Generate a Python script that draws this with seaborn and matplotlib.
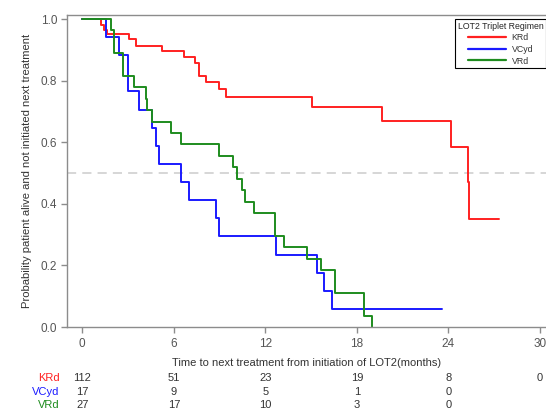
import seaborn as sns
import matplotlib.pyplot as plt
import matplotlib.transforms as mtransforms
from matplotlib.lines import Line2D
import pandas as pd

# Kaplan-Meier step points (time in months, survival)
krd_time = [0, 1.25, 1.4, 1.6, 3.05, 3.5, 5.25, 6.7, 7.42, 7.65, 8.12, 8.96, 9.42,
            15.05, 19.67, 24.15, 25.3, 25.35, 27.35]
krd_surv = [1.0, 0.98, 0.965, 0.952, 0.934, 0.912, 0.896, 0.878, 0.857, 0.816, 0.796,
            0.772, 0.748, 0.713, 0.670, 0.585, 0.47, 0.350, 0.350]

vcyd_time = [0, 1.55, 2.4, 3.02, 3.75, 4.55, 4.85, 5.05, 6.5, 7.0, 8.76, 8.98,
             12.73, 15.36, 15.86, 16.38, 23.57]
vcyd_surv = [1.0, 0.941, 0.882, 0.765, 0.706, 0.647, 0.588, 0.529, 0.471, 0.412,
             0.353, 0.294, 0.235, 0.176, 0.118, 0.059, 0.059]

vrd_time = [0, 1.86, 2.08, 2.7, 3.39, 4.15, 4.26, 4.54, 5.85, 6.46, 8.98, 9.9, 10.12,
            10.5, 10.7, 11.24, 12.66, 13.23, 14.7, 15.63, 16.6, 18.45, 18.97]
vrd_surv = [1.0, 0.963, 0.889, 0.815, 0.778, 0.741, 0.704, 0.667, 0.630, 0.593, 0.556,
            0.519, 0.481, 0.444, 0.407, 0.370, 0.296, 0.259, 0.222, 0.185, 0.111,
            0.037, 0.0]

groups = ["KRd", "VCyd", "VRd"]
colors = {"KRd": "#ff2020", "VCyd": "#1a1aff", "VRd": "#1e8c1e"}

# numbers at risk
risk_ticks = [0, 6, 12, 18, 24, 30]
krd_risk = [112, 51, 23, 19, 8, 0]
vcyd_risk = [17, 9, 5, 1, 0]
vrd_risk = [27, 17, 10, 3, 0]

df = pd.concat([
    pd.DataFrame({"time": krd_time, "surv": krd_surv, "group": "KRd"}),
    pd.DataFrame({"time": vcyd_time, "surv": vcyd_surv, "group": "VCyd"}),
    pd.DataFrame({"time": vrd_time, "surv": vrd_surv, "group": "VRd"}),
], ignore_index=True)

sns.set_theme(style="white")
plt.rcParams["font.family"] = ["Liberation Sans", "DejaVu Sans"]

fig = plt.figure(figsize=(5.46, 4.09), dpi=100)
ax = fig.add_axes([67 / 546, 82 / 409, 1 - 67 / 546, 312 / 409])

sns.lineplot(data=df, x="time", y="surv", hue="group", palette=colors,
             estimator=None, sort=False, drawstyle="steps-post",
             linewidth=1.4, legend=False, ax=ax)

ax.axhline(0.5, color="#cccccc", linestyle=(0, (6, 4)), linewidth=1.1, zorder=0)

ax.set_xlim(-1.0, 30.4)
ax.set_ylim(0, 1.013)
ax.set_xticks(risk_ticks)
ax.set_yticks([0.0, 0.2, 0.4, 0.6, 0.8, 1.0])
ax.set_yticklabels(["0.0", "0.2", "0.4", "0.6", "0.8", "1.0"])

for side in ["left", "bottom", "top"]:
    ax.spines[side].set_color("#8c8c8c")
    ax.spines[side].set_linewidth(1.0)
ax.spines["right"].set_visible(False)

ax.tick_params(axis="both", direction="out", length=4, width=1, color="#8c8c8c",
               labelsize=8.5, labelcolor="#555555", pad=3,
               bottom=True, left=True, top=False, right=False)
ax.tick_params(axis="x", pad=4)

ax.set_xlabel("Time to next treatment from initiation of LOT2(months)",
              fontsize=8, color="#333333", labelpad=6)
ax.set_ylabel("Probability patient alive and not initiated next treatment",
              fontsize=8.1, color="#333333", labelpad=6)

handles = [Line2D([0], [0], color=colors[g], linewidth=1.6) for g in groups]
leg = ax.legend(handles, groups, title="LOT2 Triplet Regimen",
                loc="upper left", bbox_to_anchor=(455 / 546, 1 - 19 / 409),
                bbox_transform=fig.transFigure, fontsize=6.3, title_fontsize=6.3,
                frameon=True, fancybox=False, framealpha=1, edgecolor="black",
                handlelength=4.4, handletextpad=0.6, borderpad=0.3,
                labelspacing=0.3, borderaxespad=0)
leg.get_frame().set_linewidth(0.8)
for t in leg.get_texts():
    t.set_color("#333333")

# number-at-risk table under the axis
trans = mtransforms.blended_transform_factory(ax.transData, fig.transFigure)
rows = [("KRd", krd_risk, 1 - 378.3 / 409),
        ("VCyd", vcyd_risk, 1 - 391.7 / 409),
        ("VRd", vrd_risk, 1 - 405 / 409)]
for name, counts, yy in rows:
    fig.text(59.5 / 546, yy, name, color=colors[name], fontsize=8,
             ha="right", va="center")
    for xt, n in zip(risk_ticks, counts):
        ax.text(xt, yy, str(n), transform=trans, fontsize=8, color="#333333",
                ha="center", va="center", clip_on=False)

fig.savefig("out.png", dpi=100)
